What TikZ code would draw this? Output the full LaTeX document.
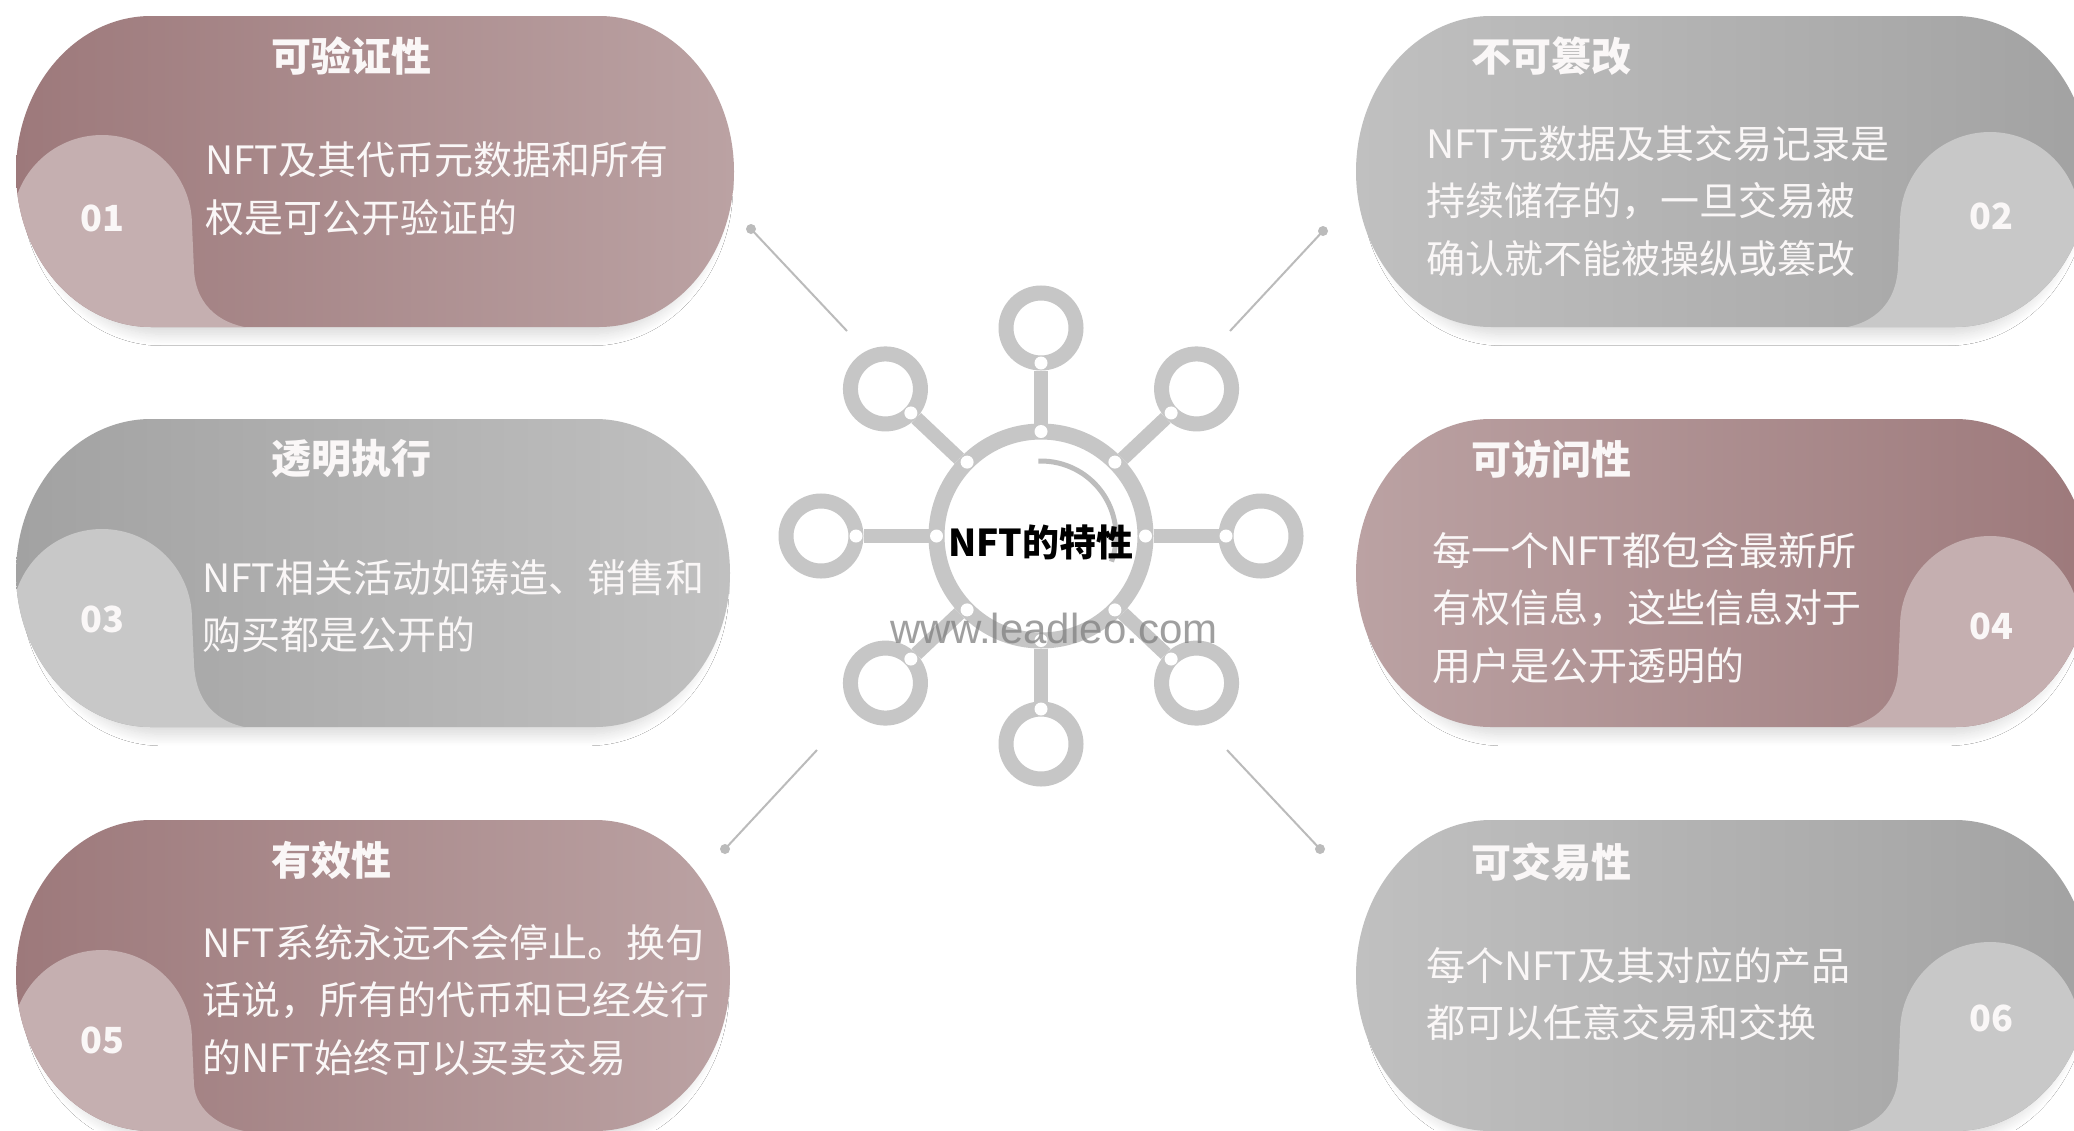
\documentclass[tikz,border=0pt]{standalone}
\usepackage{fontspec}
\newfontfamily\cjk{Noto Sans CJK SC}
\newfontfamily\latf{Liberation Sans}
\usetikzlibrary{shadows.blur,calc}
\definecolor{mDark}{HTML}{9D797B}
\definecolor{mLight}{HTML}{BBA2A3}
\definecolor{mTab}{HTML}{C5AFB0}
\definecolor{gDark}{HTML}{A2A2A2}
\definecolor{gLight}{HTML}{C0C0C0}
\definecolor{gTab}{HTML}{C8C8C8}
\definecolor{hubgray}{HTML}{C6C6C6}
\definecolor{arcgray}{HTML}{BDBDBD}
\definecolor{conngray}{HTML}{BBBBBB}
\definecolor{txtw}{HTML}{FAF7F7}
\newcommand{\pillpath}[4]{({#1+135},#2) -- ({#3-135},#2) arc[start angle=-90,end angle=90,x radius=135,y radius={(#4-#2)/2}] -- ({#1+135},#4) arc[start angle=90,end angle=270,x radius=135,y radius={(#4-#2)/2}] -- cycle}
\newcommand{\tabLpath}[3]{({#1-120},#2) -- ({#1-90},#2) arc[start angle=180,end angle=360,radius=90] -- ({#1+92},{#2+45}) .. controls ({#1+94},{#3-20}) and ({#1+120},{#3}) .. ({#1+158},{#3+2}) -- ({#1-120},{#3+2}) -- cycle}
\newcommand{\tabRpath}[3]{({#1+150},#2) -- ({#1+90},#2) arc[start angle=0,end angle=-180,radius=90] -- ({#1-92},{#2+45}) .. controls ({#1-94},{#3-20}) and ({#1-120},{#3}) .. ({#1-158},{#3+2}) -- ({#1+150},{#3+2}) -- cycle}
\tikzset{
  cardshadow/.style={blur shadow={shadow xshift=2pt,shadow yshift=-14pt,shadow scale=0.96,shadow blur radius=12pt,shadow blur steps=16,shadow opacity=16}},
  ttl/.style={font=\cjk\bfseries\fontsize{40}{48}\selectfont, text=txtw, anchor=west, inner sep=0pt},
  body/.style={font=\cjk\fontsize{39}{57.5}\selectfont, text=txtw, anchor=west, align=left, inner sep=0pt},
  num/.style={font=\cjk\bfseries\fontsize{36}{44}\selectfont, text=txtw, inner sep=0pt},
  hubring/.style={circle, draw=hubgray, line width=16pt, minimum size=209pt, inner sep=0pt},
  smallring/.style={circle, draw=hubgray, line width=15pt, minimum size=70pt, inner sep=0pt},
  spoke/.style={draw=hubgray, line width=14pt},
  innerarc/.style={draw=arcgray, line width=5pt},
  hubtxt/.style={font=\cjk\bfseries\fontsize{37}{44}\selectfont, text=black, inner sep=0pt},
  wmark/.style={font=\latf\fontsize{42}{50}\selectfont, text=gray, opacity=0.75, inner sep=0pt},
  conn/.style={draw=conngray, line width=2pt},
  conndot/.style={fill=conngray}
}
\begin{document}
\begin{tikzpicture}[x=1pt,y=-1pt]
\path[use as bounding box, fill=white] (0,0) rectangle (2074,1130);

% ---- Card 1
\path[cardshadow, left color=mDark, right color=mLight] \pillpath{16}{16}{734}{327};
\begin{scope}\clip \pillpath{16}{16}{734}{327}; \fill[mTab] \tabLpath{102}{225}{327}; \end{scope}
\node[ttl] (t1) at (271,56) {可验证性};
\node[body] (b1) at (205,189) {NFT及其代币元数据和所有\\权是可公开验证的};
\node[num] (n1) at (102,218) {01};

% ---- Card 2
\path[cardshadow, left color=gLight, right color=gDark] \pillpath{1356}{16}{2090}{327};
\begin{scope}\clip \pillpath{1356}{16}{2090}{327}; \fill[gTab] \tabRpath{1990}{222}{327}; \end{scope}
\node[ttl] (t2) at (1471,56) {不可篡改};
\node[body] (b2) at (1426,201) {NFT元数据及其交易记录是\\持续储存的，一旦交易被\\确认就不能被操纵或篡改};
\node[num] (n2) at (1991,216) {02};

% ---- Card 3
\path[cardshadow, left color=gDark, right color=gLight] \pillpath{16}{419}{730}{727};
\begin{scope}\clip \pillpath{16}{419}{730}{727}; \fill[gTab] \tabLpath{102}{619}{727}; \end{scope}
\node[ttl] (t3) at (271,459) {透明执行};
\node[body] (b3) at (202,606) {NFT相关活动如铸造、销售和\\购买都是公开的};
\node[num] (n3) at (102,619) {03};

% ---- Card 4
\path[cardshadow, left color=mLight, right color=mDark] \pillpath{1356}{419}{2090}{727};
\begin{scope}\clip \pillpath{1356}{419}{2090}{727}; \fill[mTab] \tabRpath{1990}{626}{727}; \end{scope}
\node[ttl] (t4) at (1471,459) {可访问性};
\node[body] (b4) at (1432,608) {每一个NFT都包含最新所\\有权信息，这些信息对于\\用户是公开透明的};
\node[num] (n4) at (1991,626) {04};

% ---- Card 5
\path[cardshadow, left color=mDark, right color=mLight] \pillpath{16}{820}{730}{1131};
\begin{scope}\clip \pillpath{16}{820}{730}{1131}; \fill[mTab] \tabLpath{102}{1040}{1131}; \end{scope}
\node[ttl] (t5) at (271,860) {有效性};
\node[body] (b5) at (202,1000) {NFT系统永远不会停止。换句\\话说，所有的代币和已经发行\\的NFT始终可以买卖交易};
\node[num] (n5) at (102,1040) {05};

% ---- Card 6
\path[cardshadow, left color=gLight, right color=gDark] \pillpath{1356}{820}{2090}{1131};
\begin{scope}\clip \pillpath{1356}{820}{2090}{1131}; \fill[gTab] \tabRpath{1990}{1032}{1131}; \end{scope}
\node[ttl] (t6) at (1471,862) {可交易性};
\node[body] (b6) at (1426,994) {每个NFT及其对应的产品\\都可以任意交易和交换};
\node[num] (n6) at (1991,1018) {06};

% ---- Connectors
\coordinate (tlA) at (751,229); \coordinate (tlB) at (847,331);
\coordinate (trA) at (1323,231); \coordinate (trB) at (1230,331);
\coordinate (blA) at (725,849); \coordinate (blB) at (817,750);
\coordinate (brA) at (1320,849); \coordinate (brB) at (1227,750);
\draw[conn] (tlA) -- (tlB);
\draw[conn] (trA) -- (trB);
\draw[conn] (blA) -- (blB);
\draw[conn] (brA) -- (brB);
\fill[conndot] (tlA) circle[radius=5];
\fill[conndot] (trA) circle[radius=5];
\fill[conndot] (blA) circle[radius=5];
\fill[conndot] (brA) circle[radius=5];

% ---- Hub
\coordinate (C) at (1041,536);
\node[hubring] (hub) at (C) {};
\foreach \a/\n in {0/1,45/2,90/3,135/4,180/5,225/6,270/7,315/8}{
  \node[smallring] (s\n) at ($(C)+({220*cos(\a)},{208*sin(\a)})$) {};
  \draw[spoke] (hub) -- (s\n);
  \fill[white] ($(C)+({104.5*cos(\a)},{104.5*sin(\a)})$) circle[radius=6.5];
  \fill[white] ($(s\n)!35pt!(C)$) circle[radius=6.5];
}
\draw[innerarc] ($(C)+(-92:75)$) arc[start angle=-92,end angle=20,radius=75];
\node[wmark] (wm) at (1054,628) {www.leadleo.com};
\node[hubtxt] (title) at (1041,542) {NFT的特性};
\end{tikzpicture}
\end{document}
